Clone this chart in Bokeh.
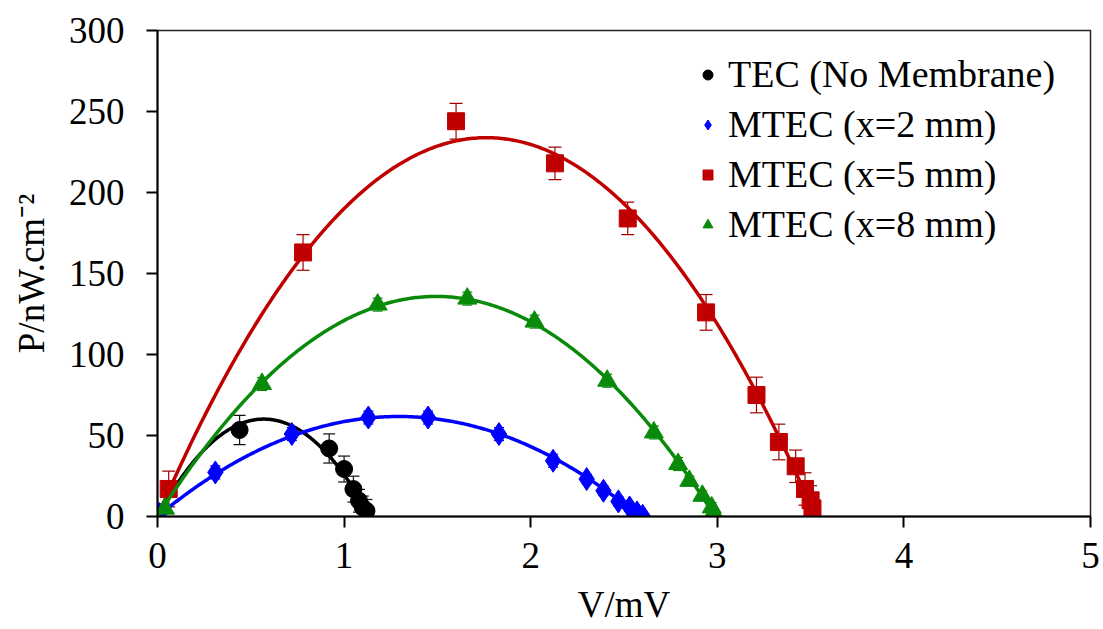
import numpy as np
from bokeh.plotting import figure
from bokeh.models import (ColumnDataSource, Range1d, FixedTicker, Whisker, TeeHead,
                          Legend, LegendItem)
from bokeh.embed import file_html
from bokeh.resources import INLINE

# ---- data ----
tec_v = [0.44, 0.92, 1.00, 1.05, 1.08, 1.10, 1.12]
tec_p = [53.4, 42.0, 29.3, 16.9, 9.7, 5.6, 3.5]
tec_err = [9, 9, 8, 8, 7, 7, 7]

m2_v = [0.01, 0.31, 0.72, 1.13, 1.45, 1.83, 2.12, 2.30, 2.39, 2.47, 2.53, 2.57, 2.60]
m2_p = [1.5, 27.2, 50.9, 61.1, 61.1, 50.9, 34.4, 23.1, 15.9, 9.3, 5.6, 2.5, 0.4]
m2_err = [2, 4, 4, 4, 4, 4, 4, 3, 3, 3, 2, 2, 2]

m5_v = [0.06, 0.78, 1.60, 2.13, 2.52, 2.94, 3.21, 3.33, 3.42, 3.47, 3.50, 3.51]
m5_p = [17.0, 163.0, 244.0, 218.0, 184.0, 126.0, 75.0, 46.0, 31.0, 17.0, 10.0, 5.0]
m5_err = [11, 11, 11, 10, 10, 11, 11, 11, 10, 10, 9, 8]

m8_v = [0.04, 0.56, 1.18, 1.66, 2.02, 2.41, 2.66, 2.79, 2.85, 2.92, 2.97, 2.98]
m8_p = [4.8, 81.8, 130.8, 134.5, 120.3, 83.8, 51.9, 32.4, 22.0, 12.8, 5.6, 2.5]
m8_err = [3, 4, 4, 4, 4, 4, 4, 4, 3, 3, 3, 2]

labels = ["TEC (No Membrane)", "MTEC (x=2 mm)", "MTEC (x=5 mm)", "MTEC (x=8 mm)"]
x_ticks = [0, 1, 2, 3, 4, 5]
y_ticks = [0, 50, 100, 150, 200, 250, 300]
x_title = "V/mV"
y_title = "P/nW.cm\u207b\u00b2"

FONT = "Liberation Serif"

p = figure(width=1103, height=629, x_range=Range1d(0, 5), y_range=Range1d(0, 300),
           output_backend="svg", toolbar_location=None,
           min_border_left=157, min_border_right=13, min_border_top=30, min_border_bottom=113)
p.xgrid.visible = False
p.ygrid.visible = False
p.outline_line_color = "#222222"
p.outline_line_width = 1.5
p.background_fill_color = "white"
p.border_fill_color = "white"

for ax in (p.xaxis[0], p.yaxis[0]):
    ax.axis_line_width = 2
    ax.axis_line_color = "black"
    ax.major_tick_line_width = 2
    ax.major_tick_line_color = "black"
    ax.major_tick_out = 11
    ax.major_tick_in = 0
    ax.minor_tick_line_color = None
    ax.major_label_text_font = FONT
    ax.major_label_text_font_size = "37px"
    ax.major_label_text_color = "black"
    ax.axis_label_text_font = FONT
    ax.axis_label_text_font_size = "37px"
    ax.axis_label_text_font_style = "normal"
    ax.axis_label_text_color = "black"

p.xaxis.ticker = FixedTicker(ticks=x_ticks)
p.yaxis.ticker = FixedTicker(ticks=y_ticks)
p.xaxis.axis_label = x_title
p.yaxis.axis_label = y_title
p.xaxis.major_label_standoff = 15
p.yaxis.major_label_standoff = 22
p.xaxis.axis_label_standoff = 13
p.yaxis.axis_label_standoff = 14


def fit_curve(v, pw):
    v = np.asarray(v, float)
    pw = np.asarray(pw, float)
    A = np.column_stack([v, v ** 2])
    coef, *_ = np.linalg.lstsq(A, pw, rcond=None)
    xs = np.linspace(0, v.max(), 300)
    ys = coef[0] * xs + coef[1] * xs ** 2
    return xs, np.clip(ys, 0, None)


series = [
    (tec_v, tec_p, tec_err, "#000000", "#111111", "circle", 17, 12),
    (m2_v, m2_p, m2_err, "#0000FF", "#0000FF", "diamond", 23, 10),
    (m5_v, m5_p, m5_err, "#C00000", "#A00000", "square", 17, 13),
    (m8_v, m8_p, m8_err, "#0A8A0A", "#0A8A0A", "triangle", 19, 10),
]

items = []
for (v, pw, err, col, ecol, marker, size, cap), lab in zip(series, labels):
    xs, ys = fit_curve(v, pw)
    p.line(xs, ys, line_color=col, line_width=3.5)
    src = ColumnDataSource(dict(v=v, p=pw,
                                upper=[a + b for a, b in zip(pw, err)],
                                lower=[a - b for a, b in zip(pw, err)]))
    wk = Whisker(source=src, base="v", upper="upper", lower="lower",
                 line_color=ecol, line_width=1.2,
                 upper_head=TeeHead(size=cap, line_color=ecol, line_width=1.2),
                 lower_head=TeeHead(size=cap, line_color=ecol, line_width=1.2))
    p.add_layout(wk)
    r = p.scatter("v", "p", source=src, marker=marker, size=size,
                  fill_color=col, line_color=col, line_width=1)
    items.append(LegendItem(label=lab, renderers=[r]))

legend = Legend(items=items, location=(538, 270), orientation="vertical",
                label_text_font=FONT, label_text_font_size="38px",
                label_text_color="black", glyph_width=25, glyph_height=25,
                label_height=44, label_standoff=8, spacing=6, padding=5,
                margin=0, border_line_color=None, background_fill_alpha=0)
p.add_layout(legend, "center")

open("out.html", "w").write(file_html(p, INLINE))
